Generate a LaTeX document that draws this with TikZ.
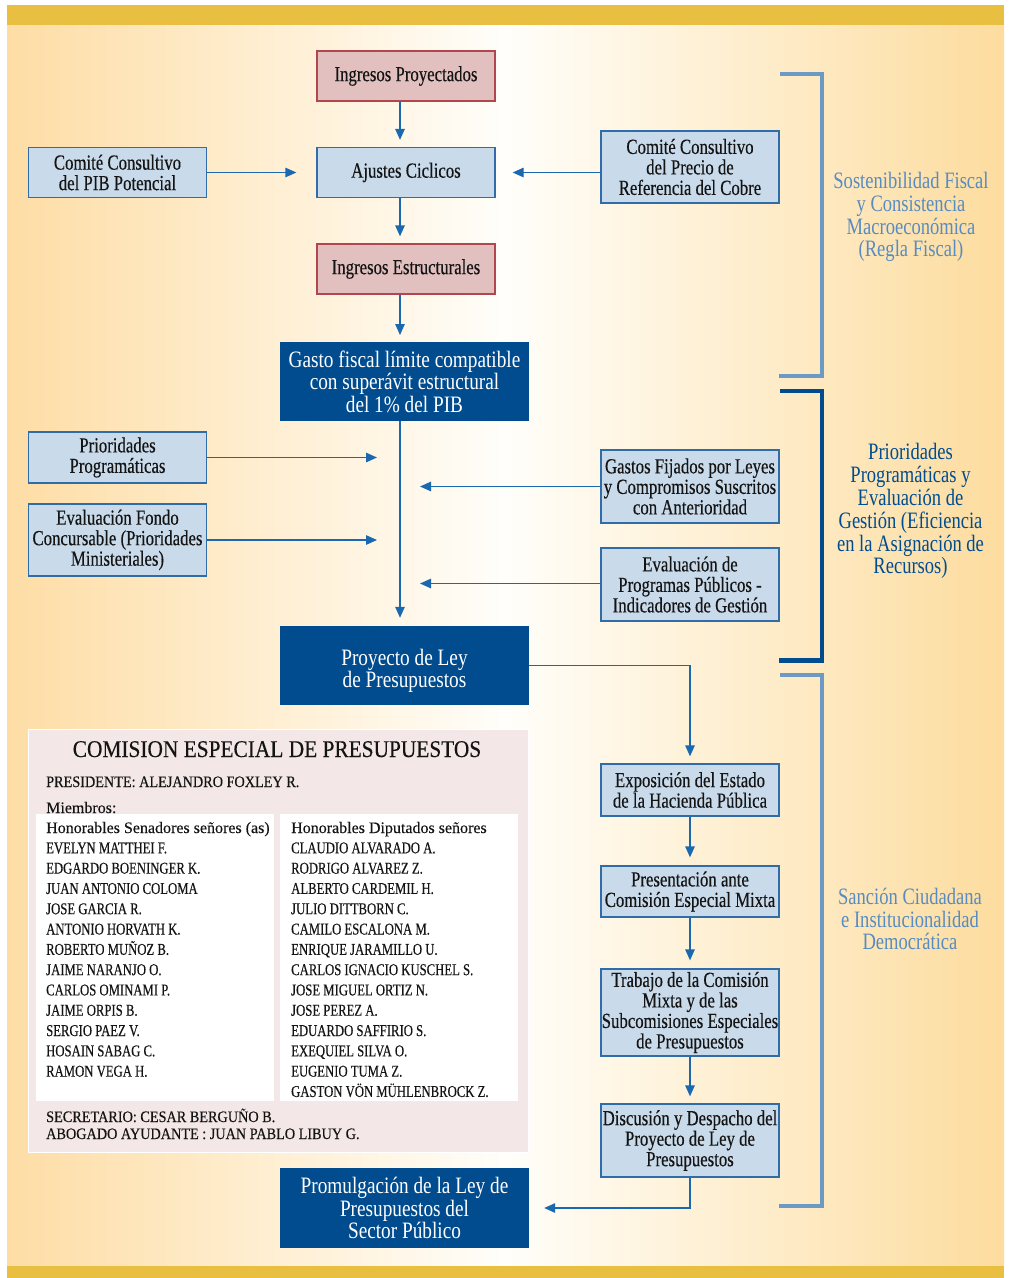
\documentclass[tikz,border=0pt]{standalone}
\usepackage{fontspec}
\setmainfont{Liberation Serif}[FakeStretch=0.82]
\newfontfamily\boxfont{Liberation Serif}[FakeStretch=0.78,FakeBold=0.3]
\newfontfamily\sidefont{Liberation Serif}[FakeStretch=0.79]
\newfontfamily\namesfont{Liberation Serif}[FakeStretch=0.77,FakeBold=0.3]
\newfontfamily\headfont{Liberation Serif}[FakeStretch=0.89,FakeBold=0.3]
\newfontfamily\plainfont{Liberation Serif}[FakeBold=0.2]
\usetikzlibrary{arrows.meta}

\definecolor{gold}{RGB}{233,191,66}
\definecolor{bgL}{RGB}{254,221,165}
\definecolor{bgM}{RGB}{255,254,250}
\definecolor{bgR}{RGB}{253,220,158}
\definecolor{pinkfill}{RGB}{227,192,192}
\definecolor{pinkdraw}{RGB}{176,70,78}
\definecolor{bluefill}{RGB}{201,219,235}
\definecolor{bluedraw}{RGB}{47,108,168}
\definecolor{darkblue}{RGB}{0,76,143}
\definecolor{arrowblue}{RGB}{26,104,176}
\definecolor{lightbracket}{RGB}{108,154,196}
\definecolor{lighttext}{RGB}{88,140,192}
\definecolor{comfill}{RGB}{243,231,231}
\definecolor{ink}{RGB}{20,20,20}

\begin{document}
\begin{tikzpicture}[x=1pt,y=-1pt,
  box/.style={draw=bluedraw, fill=bluefill, line width=1.3pt, inner sep=0pt, align=center,
    text=ink, minimum width=178pt, font=\boxfont\fontsize{21.5}{20.5}\selectfont},
  pbox/.style={box, draw=pinkdraw, fill=pinkfill},
  dbox/.style={fill=darkblue, text=white, inner sep=0pt, align=center, minimum width=249pt,
    minimum height=79pt, font=\fontsize{23.5}{22.6}\selectfont},
  arr/.style={draw=arrowblue, line width=1.3pt, -{Triangle[length=11pt,width=9.5pt]}},
  side/.style={align=center, inner sep=0pt, font=\sidefont\fontsize{23.5}{22.9}\selectfont},
  bracket/.style={line width=4.5pt},
  panel/.style={fill=white, inner sep=0pt, minimum width=238pt, minimum height=287pt},
  nameitem/.style={anchor=base west, inner sep=0pt, text=ink, font=\namesfont\fontsize{16.5}{16.5}\selectfont},
  headitem/.style={anchor=base west, inner sep=0pt, text=ink, font=\headfont\fontsize{16}{16}\selectfont},
  plainitem/.style={anchor=base west, inner sep=0pt, text=ink, font=\plainfont\fontsize{16}{16}\selectfont}
]
\useasboundingbox (0,0) rectangle (1009,1278);
% background
\fill[white] (0,0) rectangle (1009,1278);
\shade[left color=bgL, right color=bgR, middle color=bgM] (7,25) rectangle (1004,1266);
\fill[gold] (7,5) rectangle (1004,25);
\fill[gold] (7,1266) rectangle (1004,1278);

% spine
\coordinate (spine) at (400,0);

% upper flow
\node[pbox, minimum height=50pt] (ip) at (406,76) {Ingresos Proyectados};
\node[box, minimum height=50pt] (aj) at (406,172.5) {Ajustes Ciclicos};
\node[box, minimum height=50pt] (pib) at (117.5,172.5) {Comité Consultivo\\del PIB Potencial};
\node[box, minimum height=72pt] (cobre) at (690,167) {Comité Consultivo\\del Precio de\\Referencia del Cobre};
\node[pbox, minimum height=50pt] (ie) at (406,269) {Ingresos Estructurales};
\node[dbox] (gasto) at (404.5,381.7) {Gasto fiscal límite compatible\\con superávit estructural\\del 1\% del PIB};

\node[box, minimum height=51pt] (prio) at (117.5,457.5) {Prioridades\\Programáticas};
\node[box, minimum height=72pt] (fondo) at (117.5,540) {Evaluación Fondo\\Concursable (Prioridades\\Ministeriales)};
\node[box, minimum height=73pt] (gfij) at (690,486.5) {Gastos Fijados por Leyes\\y Compromisos Suscritos\\con Anterioridad};
\node[box, minimum height=73pt] (evprog) at (690,584.5) {Evaluación de\\Programas Públicos -\\Indicadores de Gestión};

\node[dbox] (proy) at (404.5,665.5) {\rule{0pt}{27pt}Proyecto de Ley\\de Presupuestos};

% lower flow
\node[box, minimum height=52pt] (expo) at (690,790) {Exposición del Estado\\de la Hacienda Pública};
\node[box, minimum height=51pt] (presmix) at (690,891.5) {Presentación ante\\Comisión Especial Mixta};
\node[box, minimum height=87pt] (trab) at (690,1012.5) {Trabajo de la Comisión\\Mixta y de las\\Subcomisiones Especiales\\de Presupuestos};
\node[box, minimum height=73pt] (disc) at (690,1140.5) {Discusión y Despacho del\\Proyecto de Ley de\\Presupuestos};
\node[dbox, minimum height=80pt] (prom) at (404.5,1208) {Promulgación de la Ley de\\Presupuestos del\\Sector Público};

% arrow tips on the spine
\coordinate (t1) at (377,457.5);
\coordinate (t2) at (377,540);
\coordinate (t3) at (420,486.5);
\coordinate (t4) at (420,583.5);

% connectors
\draw[arr, shorten >=7pt] (ip.south -| spine) -- (aj.north -| spine);
\draw[arr, shorten >=7pt] (aj.south -| spine) -- (ie.north -| spine);
\draw[arr, shorten >=7pt] (ie.south -| spine) -- (gasto.north -| spine);
\draw[arr, shorten >=8pt] (gasto.south -| spine) -- (proy.north -| spine);
\draw[arr, shorten >=20pt] (pib.east) -- (aj.west);
\draw[arr, shorten >=17pt] (cobre.west |- aj.east) -- (aj.east);
\draw[arr] (prio.east) -- (t1);
\draw[arr] (fondo.east) -- (t2);
\draw[arr] (gfij.west) -- (t3);
\draw[arr] (evprog.west |- t4) -- (t4);
\draw[arr, shorten >=7pt] (proy.east) -| (expo.north);
\draw[arr, shorten >=8pt] (expo.south) -- (presmix.north);
\draw[arr, shorten >=8pt] (presmix.south) -- (trab.north);
\draw[arr, shorten >=7pt] (trab.south) -- (disc.north);
\draw[arr, shorten >=15pt] (disc.south) |- (prom.east);

% brackets
\draw[bracket, lightbracket] (780,74) -- (822,74) -- (822,376) -- (779,376);
\draw[bracket, darkblue] (780,391) -- (822,391) -- (822,660.5) -- (779,660.5);
\draw[bracket, lightbracket] (780,675) -- (822,675) -- (822,1206) -- (779,1206);

% side labels
\node[side, text=lighttext] (lab1) at (911,217) {Sostenibilidad Fiscal\\y Consistencia\\Macroeconómica\\(Regla Fiscal)};
\node[side, text=darkblue] (lab2) at (910.5,511) {Prioridades\\Programáticas y\\Evaluación de\\Gestión (Eficiencia\\en la Asignación de\\Recursos)};
\node[side, text=lighttext] (lab3) at (910,919) {Sanción Ciudadana\\e Institucionalidad\\Democrática};

% commission box
\node[draw=white, line width=1pt, fill=comfill, inner sep=0pt, minimum width=500pt, minimum height=423pt] (com) at (278,940.5) {};
\node[panel] (panL) at (155,957.5) {};
\node[panel] (panR) at (399,957.5) {};
\node[anchor=base, inner sep=0pt, text=ink, font=\headfont\fontsize{24}{24}\selectfont] (comtitle) at (277,757) {COMISION ESPECIAL DE PRESUPUESTOS};
\node[headitem] (presid) at (46,787) {PRESIDENTE: ALEJANDRO FOXLEY R.};
\node[plainitem] (miem) at (46,813) {Miembros:};
\node[plainitem] (senhead) at (46,833) {Honorables Senadores señores (as)};
\node[plainitem] (diphead) at (291,833) {Honorables Diputados señores};
\foreach \nm [count=\i] in {EVELYN MATTHEI F., EDGARDO BOENINGER K., JUAN ANTONIO COLOMA, JOSE GARCIA R., ANTONIO HORVATH K., ROBERTO MUÑOZ B., JAIME NARANJO O., CARLOS OMINAMI P., JAIME ORPIS B., SERGIO PAEZ V., HOSAIN SABAG C., RAMON VEGA H.}
  \node[nameitem] (sen\i) at (46,{833+20.3*\i}) {\nm};
\foreach \nm [count=\i] in {CLAUDIO ALVARADO A., RODRIGO ALVAREZ Z., ALBERTO CARDEMIL H., JULIO DITTBORN C., CAMILO ESCALONA M., ENRIQUE JARAMILLO U., CARLOS IGNACIO KUSCHEL S., JOSE MIGUEL ORTIZ N., JOSE PEREZ A., EDUARDO SAFFIRIO S., EXEQUIEL SILVA O., EUGENIO TUMA Z., GASTON VÖN MÜHLENBROCK Z.}
  \node[nameitem] (dip\i) at (291,{833+20.3*\i}) {\nm};
\node[headitem] (secr) at (46,1122) {SECRETARIO: CESAR BERGUÑO B.};
\node[headitem] (abog) at (46,1139) {ABOGADO AYUDANTE : JUAN PABLO LIBUY G.};
\end{tikzpicture}
\end{document}
